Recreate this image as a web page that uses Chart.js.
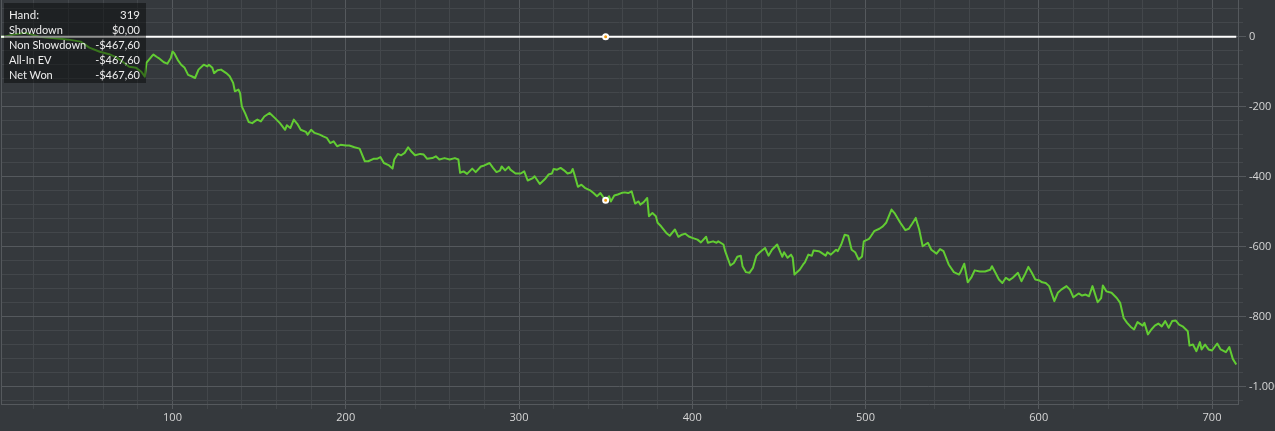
<!DOCTYPE html>
<html><head><meta charset="utf-8">
<script src="https://cdn.jsdelivr.net/npm/chart.js@4"></script>
<style>
html,body{margin:0;padding:0;background:#35393d;overflow:hidden}
#wrap{position:relative;width:1275px;height:431px}
canvas{display:block}
#tip{position:absolute;left:4px;top:3px;width:142px;height:80px;background:rgba(0,0,0,0.42);font:11px 'Lato',sans-serif;color:#ededed;box-sizing:border-box;padding:4px 6px 0 5px}
#tip .row{display:flex;justify-content:space-between;height:15px;line-height:15px;white-space:nowrap}
#tip .row:first-child{font-size:11.5px}
</style></head>
<body>
<div id="wrap"><canvas id="c" width="1275" height="431"></canvas><div id="tip"></div></div>
<script>
// ---- data ----
const hands = [
  1,3,8,12,15,19,23,29,35,41,
  47,52,58,64,68,71,75,79,82,84,
  85,88,89,91,92,95,97,99,100,101,
  103,105,107,109,111,113,115,118,120,121,
  123,124,126,128,131,133,135,136,138,139,
  140,142,144,146,148,149,151,153,156,159,
  162,165,166,168,170,172,174,177,178,180,
  182,185,187,189,191,193,195,197,200,202,
  205,208,211,213,216,218,220,222,225,227,
  228,230,232,234,236,238,240,243,245,247,
  250,252,254,257,260,263,265,266,268,270,
  273,275,278,280,283,285,287,289,290,292,
  294,295,298,301,303,305,308,309,312,315,
  317,319,320,322,324,326,328,330,331,332,
  334,336,338,341,343,345,347,349,350,352,
  353,355,357,359,361,363,365,367,369,370,
  372,374,375,377,379,380,382,385,387,390,
  392,394,396,398,400,403,405,408,409,412,
  414,415,418,419,422,424,426,428,429,431,
  433,435,437,439,442,444,446,449,451,452,
  453,455,457,458,459,462,464,465,467,469,
  470,473,474,477,478,480,483,484,486,488,
  490,492,494,496,498,499,502,503,505,508,
  510,512,515,517,520,523,525,527,529,531,
  533,536,538,541,543,545,548,551,554,555,
  557,559,561,563,566,569,572,573,575,577,
  579,581,583,585,588,590,592,594,596,598,
  600,602,604,606,609,611,613,616,618,620,
  623,625,627,629,631,632,634,636,637,639,
  642,645,647,649,651,653,655,657,660,661,
  663,665,667,669,671,673,675,677,679,681,
  683,686,687,689,691,693,694,696,698,700,
  703,705,708,710,712,714
];
const netWon = [
  0,0,6,9,11,6,0,-3,-6,-9,
  -14,-31,-43,-51,-60,-71,-86,-89,-100,-114,
  -74,-56,-51,-58,-61,-73,-77,-61,-42,-47,
  -66,-80,-89,-109,-113,-118,-94,-80,-85,-80,
  -89,-104,-96,-94,-104,-113,-132,-156,-151,-161,
  -199,-220,-244,-247,-240,-237,-242,-228,-218,-232,
  -247,-266,-253,-261,-237,-249,-266,-272,-280,-266,
  -275,-280,-285,-289,-304,-299,-313,-309,-311,-311,
  -316,-320,-356,-356,-349,-349,-344,-361,-368,-377,
  -351,-335,-339,-332,-316,-329,-339,-335,-337,-349,
  -347,-342,-351,-347,-351,-347,-351,-389,-385,-392,
  -377,-387,-371,-368,-361,-375,-387,-383,-371,-382,
  -372,-380,-391,-391,-385,-411,-404,-399,-421,-407,
  -394,-391,-378,-380,-375,-382,-391,-388,-378,-394,
  -429,-423,-432,-439,-447,-456,-447,-461,-467.6,-456,
  -471,-454,-451,-447,-445,-447,-442,-477,-471,-480,
  -473,-461,-513,-504,-513,-532,-542,-561,-569,-551,
  -572,-566,-563,-571,-575,-580,-588,-572,-589,-585,
  -589,-585,-594,-613,-654,-647,-629,-626,-656,-673,
  -675,-661,-626,-616,-604,-626,-609,-594,-618,-629,
  -616,-632,-623,-632,-680,-666,-651,-645,-623,-626,
  -611,-613,-616,-626,-616,-623,-609,-613,-594,-566,
  -569,-609,-616,-637,-628,-585,-578,-571,-556,-549,
  -542,-531,-494,-506,-531,-553,-549,-534,-518,-551,
  -599,-589,-609,-620,-607,-613,-651,-673,-680,-671,
  -649,-702,-689,-668,-671,-671,-666,-656,-675,-694,
  -704,-689,-696,-689,-675,-699,-680,-658,-675,-694,
  -696,-702,-704,-713,-756,-732,-723,-713,-723,-745,
  -734,-740,-737,-742,-713,-728,-759,-747,-711,-728,
  -732,-747,-761,-804,-818,-829,-837,-816,-826,-818,
  -851,-837,-826,-820,-828,-813,-832,-813,-811,-823,
  -828,-842,-883,-880,-899,-873,-894,-880,-894,-897,
  -877,-894,-902,-887,-921,-937
];
const showdownHands = [1, 350, 714];
const showdownWon = [0, 0, 0];
const hoverHand = 350;
const tooltipLabels = ["Hand:", "Showdown", "Non Showdown", "All-In EV", "Net Won"];
const tooltipValues = ["319", "$0,00", "-$467,60", "-$467,60", "-$467,60"];

// ---- tooltip box (HTML text) ----
const tip = document.getElementById('tip');
tooltipLabels.forEach((l, i) => {
  const r = document.createElement('div'); r.className = 'row';
  const a = document.createElement('span'); a.textContent = l;
  const b = document.createElement('span'); b.textContent = tooltipValues[i];
  r.appendChild(a); r.appendChild(b); tip.appendChild(r);
});

const MAJOR = '#55595d', MINOR = '#43474b';
Chart.defaults.font.family = "'Open Sans', sans-serif";
Chart.defaults.font.size = 11;

const leftBorder = {
  id: 'leftBorder',
  beforeDatasetsDraw(chart) {
    const a = chart.chartArea, c = chart.ctx;
    c.save(); c.strokeStyle = MAJOR; c.lineWidth = 1;
    c.beginPath(); c.moveTo(a.left + 0.5, a.top); c.lineTo(a.left + 0.5, a.bottom); c.stroke();
    c.restore();
  }
};

const ptRadius = ctx => (ctx.raw && ctx.raw.x === hoverHand) ? 2.5 : 0;
const isMajorX = c => c.tick && c.tick.value % 100 === 0;
const isMajorY = c => c.tick && c.tick.value % 200 === 0;

new Chart(document.getElementById('c'), {
  type: 'line',
  data: {
    datasets: [
      {
        label: 'Showdown',
        data: showdownHands.map((h, i) => ({x: h, y: showdownWon[i]})),
        borderColor: '#ffffff', borderWidth: 2, order: 0,
        pointRadius: ptRadius, pointBackgroundColor: '#f39c12', pointBorderColor: '#ffffff', pointBorderWidth: 2
      },
      {
        label: 'Net Won',
        data: hands.map((h, i) => ({x: h, y: netWon[i]})),
        borderColor: '#62cc33', borderWidth: 2, order: 1, borderJoinStyle: 'round',
        pointRadius: ptRadius, pointBackgroundColor: '#f39c12', pointBorderColor: '#ffffff', pointBorderWidth: 2
      }
    ]
  },
  options: {
    responsive: false, devicePixelRatio: 1, animation: false,
    layout: {padding: {left: 1, top: 0, right: 0, bottom: 0}},
    plugins: {legend: {display: false}, tooltip: {enabled: false}},
    events: [],
    scales: {
      x: {
        type: 'linear', position: 'bottom', min: 1, max: 715,
        ticks: {stepSize: 20, includeBounds: false, autoSkip: false, maxRotation: 0, color: '#d6d6d6', padding: 2,
          callback: v => (v % 100 === 0 ? String(v) : '')},
        grid: {color: c => (isMajorX(c) ? MAJOR : MINOR), tickLength: 5,
          tickColor: c => (isMajorX(c) ? MAJOR : MINOR)},
        border: {display: true, color: MAJOR},
        afterFit: s => { s.height = 27; s.paddingLeft = 0; s.paddingRight = 0; }
      },
      y: {
        type: 'linear', position: 'right', min: -1050, max: 105,
        ticks: {stepSize: 40, includeBounds: false, autoSkip: false, color: '#d6d6d6', padding: 3,
          callback: v => (v % 200 === 0 ? v.toLocaleString('de-DE') : '')},
        grid: {color: c => (isMajorY(c) ? MAJOR : MINOR), tickLength: 8,
          tickColor: c => (isMajorY(c) ? MAJOR : MINOR),
          tickBorderDash: c => (isMajorY(c) ? [] : [4, 30])},
        border: {display: true, color: MAJOR},
        afterFit: s => { s.width = 37; s.paddingTop = 0; s.paddingBottom = 0; }
      }
    }
  },
  plugins: [leftBorder]
});
</script>
</body></html>
